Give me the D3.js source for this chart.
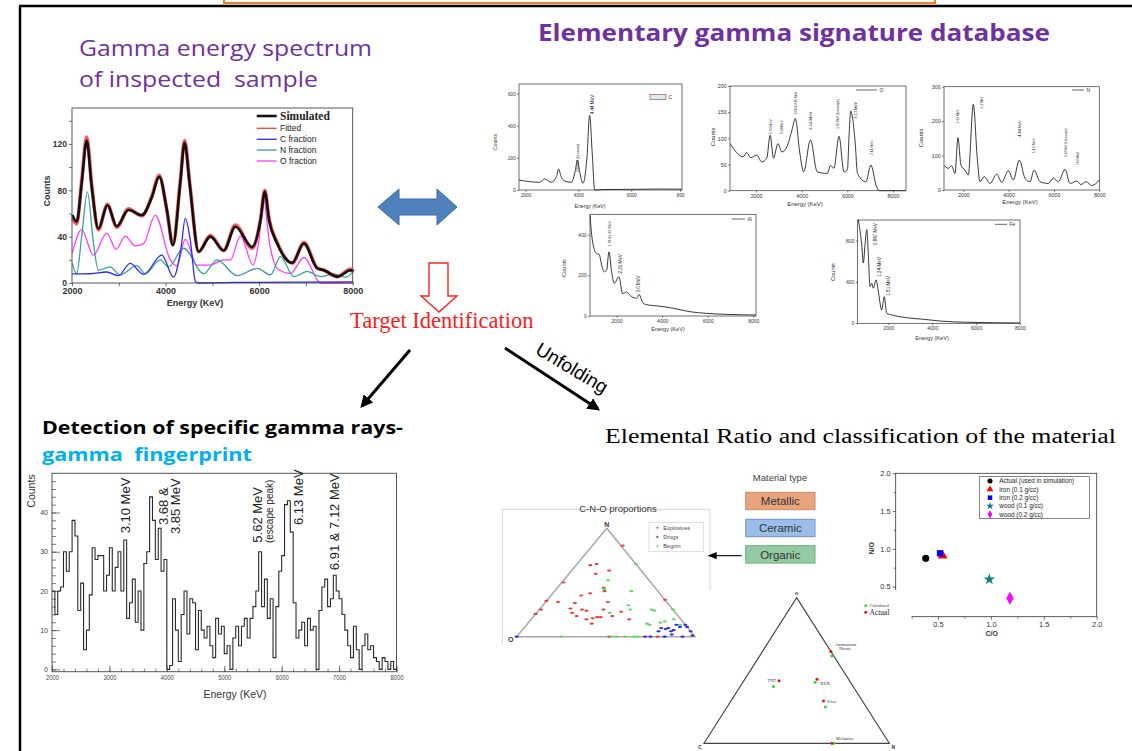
<!DOCTYPE html>
<html><head><meta charset="utf-8">
<script src="https://cdn.jsdelivr.net/npm/d3@7"></script>
<style>body{margin:0;background:#fff;overflow:hidden}svg{display:block}</style>
</head><body>
<svg id="c" width="1132" height="751"></svg>
<script>
// ================= DATA =================
// Top-left: gamma energy spectrum of inspected sample
const simE = [2007,2100,2207,2314,2421,2564,2757,2957,3207,3493,3707,3864,4029,4157,4314,4407,4514,4707,4957,5243,5493,5850,6029,6121,6214,6386,6707,6957,7243,7386,7671,7957,8014];
const simV = [58.6,52.8,86,123,83,47,67,49,63,58.6,74,91.6,63,32.7,86,121,86,27,40,28,48.5,31,54,78.7,54,34,17.5,34,12.6,11,5.5,11,10];
const fitV = [56,51,88,126,85,46,68,48,64,58,75,93,62,33,88,123,87,27,41,28,50,30,55,80,55,35,17,35,13,11,5.5,12,10];
const cFracE = [2007,2400,2743,2993,3243,3529,3921,4171,4330,4421,4529,4640,4700,5500,8014];
const cFracV = [7.8,8,9.5,6.3,17,7.5,24,5,30,55.7,37,1,0,0.5,1];
const nFracE = [2007,2100,2207,2329,2457,2564,2814,3029,3386,3564,3886,4064,4386,4814,5100,5529,5957,6243,6457,6743,7029,7314,7600,7850,8014];
const nFracV = [17,8,40,78.7,35,11,14,7,15,8,20,14,30,8,20,6.3,12.6,7,22.7,5.5,10,5.5,7.8,5,10];
const oFracE = [2007,2207,2457,2743,2943,3136,3350,3529,3779,4100,4243,4421,4671,4957,5243,5386,5600,5871,5990,6100,6220,6386,6671,6957,7314,8014];
const oFracV = [26,46,24,43,29,40.5,32,34,58.6,20,15,37.6,15.5,15.5,20,20,40.5,15.5,35,71.5,35,12.6,8.3,22,0,0];
const tlSeries = ["Simulated","Fitted","C fraction","N fraction","O fraction"];
const tlXTicks = [2000,3000,4000,5000,6000,7000,8000];
const tlXLabels = [2000,4000,6000,8000];
const tlYTicks = [0,20,40,60,80,100,120,140];
const tlYLabels = [0,40,80,120];

// Elementary signature database panels
const cSpecE = [1750,2150,2530,2720,2970,3170,3250,3340,3480,3730,3880,3960,4050,4170,4320,4424,4525,4614,5000,6000,7000,7900];
const cSpecV = [62,52,48,69,48,85,131,85,56,48,120,187,110,42,198,465,219,0,3,4,6,5];
const oSpecE = [860,1440,1590,1770,2030,2250,2470,2620,2765,2960,3135,3355,3576,3722,3912,4088,4384,4680,5120,5267,5413,5634,5855,6004,6080,6150,6340,6446,6812,7033,7254,7400,8570];
const oSpecV = [90,65,73,63,68,55,62,106,62,90,74,84,116,138,74,36,97,36,33,48,43,104,36,40,110,152,94,33,17,49,11,0,0];
const nSpecE = [1148,1337,1488,1634,1766,1898,2075,2221,2442,2618,2737,2927,3179,3475,3695,3987,4208,4472,4724,4945,5122,5386,5753,5974,6195,6490,6711,7007,7184,7418,7669,8004];
const nSpecV = [72,63,70,48,152,72,58,44,249,92,24,39,19,46,22,56,29,87,34,24,58,24,19,34,24,60,19,26,16,24,13,29];
const alSpecE = [830,945,1121,1235,1341,1455,1560,1662,1780,1894,2100,2264,2440,2560,2660,2879,2980,3170,3390,3758,4489,5222,5956,6836,8120];
const alSpecV = [495,364,307,302,250,217,225,315,217,160,193,110,118,105,95,87,106,62,54,50,38,21,13,8,5];
const feSpecE = [633,788,861,938,1016,1089,1166,1243,1317,1440,1544,1699,1818,1927,2155,2838,3595,4355,5571,8000];
const feSpecV = [1003,760,583,760,906,663,355,388,340,420,307,129,258,97,81,54,39,22,10,3];
const cAnn = [{e:4021,v:112,t:"3.93 MeV (1st escape)",fs:2.8},{e:4589,v:471,t:"4.44 MeV",fs:4.6}];
const oAnn = [{e:2700,v:108,t:"2.74 MeV",fs:3.5},{e:3183,v:108,t:"3.09MeV",fs:3.5},{e:3796,v:146,t:"3.68 & 3.85 MeV",fs:3},{e:4453,v:116,t:"4.44 MeV",fs:4.3},{e:5635,v:119,t:"5.62 MeV (1st escape)",fs:2.9},{e:6424,v:138,t:"6.13 MeV",fs:3.9},{e:7124,v:68,t:"7.11 MeV",fs:3.5}];
const nAnn = [{e:1825,v:194,t:"1.63 MeV",fs:3.2},{e:2857,v:237,t:"2.3 MeV",fs:3.2},{e:4532,v:155,t:"4.44 MeV",fs:3.8},{e:5176,v:107,t:"5.12 MeV",fs:3.5},{e:6561,v:97,t:"6.52 MeV (1st escape)",fs:2.8},{e:7117,v:72,t:"7.03 MeV",fs:3}];
const alAnn = [{e:1736,v:340,t:"1.78 &1.81 MeV",fs:3.6},{e:2220,v:209,t:"2.21 MeV",fs:4.5},{e:3024,v:116,t:"3.0 MeV",fs:4.5}];
const feAnn = [{e:1500,v:758,t:"0.847 MeV",fs:4.5},{e:1680,v:451,t:"1.24 MeV",fs:4.6},{e:2077,v:267,t:"1.81 MeV",fs:4.6}];

// Gamma fingerprint histogram (50 keV bins from 2000 keV)
const histStart = 2000, histBin = 50;
const histCounts = [20,14,20,21,30,25,30,38,34,15,22,5,10,19,31,28,29,29,20,24,
  31,20,26,30,20,33,13,17,23,12,20,10,27,30,44,38,28,36,25,28,
  0,1,18,10,2,14,20,9,18,17,5,15,10,8,11,6,3,13,9,11,
  4,6,0,8,11,6,11,13,8,13,16,20,30,16,23,13,18,3,16,25,
  29,42,43,35,17,8,10,12,6,13,10,11,0,15,21,23,16,18,24,20,
  18,14,10,6,3,11,5,0,6,9,5,6,3,2,0,3,2,0,2,0];
const histXTicks = [2000,3000,4000,5000,6000,7000,8000];
const histYTicks = [0,10,20,30,40];
const histAnn = [
  {e:3361,c:34.7,t:"3.10 MeV",fs:13,a:"start"},
  {e:4024,c:41.6,t:"3.68 &",fs:13,a:"middle"},
  {e:4234,c:41.6,t:"3.85 MeV",fs:13,a:"middle"},
  {e:5665,c:39.4,t:"5.62 MeV",fs:13,a:"middle"},
  {e:5857,c:40.3,t:"(escape peak)",fs:10,a:"middle"},
  {e:6363,c:36.8,t:"6.13 MeV",fs:13,a:"start"},
  {e:6991,c:25.3,t:"6.91 & 7.12 MeV",fs:13,a:"start"}];

// C-N-O proportions ternary: [C fraction, N fraction], O = 1 - C - N
const explosives = [[0.17,0.84],[0.11,0.67],[0.08,0.66],[0.15,0.58],[0.21,0.61],[0.26,0.45],[0.28,0.42],[0.21,0.40],[0.17,0.38],[0.01,0.50],[0.00,0.33],[0.01,0.25],[0.00,0.21],[0.17,0.31],[0.17,0.26],[0.24,0.25],[0.27,0.24],[0.24,0.19],[0.31,0.16],[0.34,0.17],[0.36,0.18],[0.36,0.12],[0.36,0.25],[0.35,0.32],[0.44,0.19],[0.47,0.23],[0.55,0.16],[0.38,0.18],[0.66,0.34],[0.52,0.00],[0.79,0.00],[0.20,0.22],[0.07,0.32]];
const drugs = [[0.72,0],[0.75,0],[0.77,0.05],[0.77,0.08],[0.80,0.07],[0.81,0.08],[0.84,0.05],[0.85,0.06],[0.84,0.11],[0.87,0.09],[0.93,0],[0.89,0.11],[0.91,0.09],[0.95,0.05],[0.98,0.01],[0.83,0],[0.86,0.02],[0,0]];
const begnin = [[0.33,0.67],[0.25,0.52],[0.27,0.44],[0.43,0.42],[0.48,0.29],[0.51,0.25],[0.41,0.22],[0.63,0.25],[0.65,0.24],[0.75,0.25],[0.67,0.12],[0.69,0.11],[0.74,0.13],[0.76,0.14],[0.80,0.16],[0.25,0],[0.53,0],[0.56,0],[0.61,0],[0.66,0],[0.68,0],[0.86,0.11]];
const materialTypes = ["Metallic","Ceramic","Organic"];

// Explosive compounds ternary (O top, C left, N right): [O fraction, N fraction]
const compounds = ["Ammonium Nitrate","TNT","RDX","Urea","Melamine"];
const actualON = [[0.63,0.37],[0.43,0.19],[0.44,0.39],[0.29,0.50],[0,0.69]];
const calcON = [[0.60,0.39],[0.39,0.18],[0.42,0.39],[0.25,0.53],[0,0.70]];

// N/O vs C/O scatter
const ratioNames = ["Actual (used in simulation)","iron (0.1 g/cc)","iron (0.2 g/cc)","wood (0.1 g/cc)","wood (0.2 g/cc)"];
const ratioCO = [0.384,0.544,0.519,0.985,1.18];
const ratioNO = [0.873,0.908,0.940,0.595,0.344];
const ratioTicks = [0.5,1.0,1.5,2.0];

// ================= DRAWING =================
const svg = d3.select('#c');
const SANS = "'Liberation Sans', Arial, sans-serif";
const SERIF = "'Liberation Serif', 'Times New Roman', serif";
const zip = (a,b) => a.map((v,i)=>[v,b[i]]);

function txt(g,x,y,s,o={}){
  const t = g.append('text').attr('x',x).attr('y',y).text(s)
    .attr('font-family',o.ff||SANS).attr('font-size',o.fs||10).attr('fill',o.fill||'#000');
  if(o.fw) t.attr('font-weight',o.fw);
  if(o.anchor) t.attr('text-anchor',o.anchor);
  if(o.tl) t.attr('textLength',o.tl).attr('lengthAdjust','spacingAndGlyphs');
  if(o.rot!=null) t.attr('transform',`rotate(${o.rot},${x},${y})`);
  if(o.pre) t.style('white-space','pre');
  return t;
}
function styleAxis(a,fs,col,ff,fw){
  a.attr('font-size',fs).attr('font-family',ff||SANS).attr('color',col||'#222');
  if(fw) a.attr('font-weight',fw);
  a.select('.domain').remove();
  a.selectAll('line').attr('stroke-width',0.7);
  return a;
}

// Frame
svg.append('rect').attr('x',224).attr('y',-10).attr('width',711).attr('height',13).attr('fill','none').attr('stroke','#ED7D31').attr('stroke-width',2);
svg.append('path').attr('d','M19,6H1132M20,6V751').attr('stroke','#000').attr('stroke-width',2.5).attr('fill','none');

// Titles
txt(svg,79,56,"Gamma energy spectrum",{fs:22,fill:'#7030A0',ff:"'Open Sans', sans-serif",tl:293});
txt(svg,79,87,"of inspected  sample",{fs:22,fill:'#7030A0',ff:"'Open Sans', sans-serif",tl:239,pre:true});
txt(svg,538,41,"Elementary gamma signature database",{fs:23,fw:'bold',fill:'#7030A0',ff:"'Open Sans', sans-serif",tl:512});
txt(svg,42,434,"Detection of specific gamma rays-",{fs:17.5,fw:'bold',ff:"'Open Sans', sans-serif",tl:361});
txt(svg,42,461,"gamma  fingerprint",{fs:17.5,fw:'bold',fill:'#00B0F0',ff:"'Open Sans', sans-serif",tl:210,pre:true});
txt(svg,605,443,"Elemental Ratio and classification of the material",{fs:20,ff:SERIF,tl:511});

// ---------- Top-left spectrum ----------
(function(){
  const L=72,R=352.7,T=108,B=283;
  const x = d3.scaleLinear().domain([2000,8000]).range([L,R]);
  const y = d3.scaleLinear().domain([0,151]).range([B,T]);
  const g = svg.append('g');
  const ln = d3.line().x(d=>x(d[0])).y(d=>y(d[1])).curve(d3.curveMonotoneX);
  g.append('path').attr('d',ln(zip(oFracE,oFracV))).attr('stroke','#ff3cff').attr('stroke-width',1.3).attr('fill','none');
  g.append('path').attr('d',ln(zip(nFracE,nFracV))).attr('stroke','#3a9f9b').attr('stroke-width',1.3).attr('fill','none');
  g.append('path').attr('d',ln(zip(cFracE,cFracV))).attr('stroke','#2a2aff').attr('stroke-width',1.3).attr('fill','none');
  g.append('path').attr('d',ln(zip(simE,fitV))).attr('stroke','#ff3b3b').attr('stroke-width',3.6).attr('fill','none').attr('opacity',0.85);
  g.append('path').attr('d',ln(zip(simE,simV))).attr('stroke','#111').attr('stroke-width',2.6).attr('fill','none');
  g.append('rect').attr('x',L).attr('y',T).attr('width',R-L).attr('height',B-T).attr('fill','none').attr('stroke','#444').attr('stroke-width',0.9);
  const ax = g.append('g').attr('transform',`translate(0,${B})`)
    .call(d3.axisBottom(x).tickValues(tlXTicks).tickFormat(d=>tlXLabels.includes(d)?String(d):'').tickSize(3).tickPadding(2));
  styleAxis(ax,9,'#333',SANS,'bold');
  const ay = g.append('g').attr('transform',`translate(${L},0)`)
    .call(d3.axisLeft(y).tickValues(tlYTicks).tickFormat(d=>tlYLabels.includes(d)?String(d):'').tickSize(3).tickPadding(2));
  styleAxis(ay,8.5,'#333',SANS,'bold');
  txt(g,195,306,"Energy (KeV)",{fs:9,anchor:'middle',fill:'#333',fw:'bold'});
  txt(g,50,191,"Counts",{fs:9,anchor:'middle',rot:-90,fill:'#333',fw:'bold'});
  // legend
  const cols = ['#111','#ff3b3b','#2a2aff','#3a9f9b','#ff3cff'];
  const rows = [116,128.3,139.3,150,161];
  tlSeries.forEach((s,i)=>{
    g.append('line').attr('x1',256.7).attr('x2',276.7).attr('y1',rows[i]).attr('y2',rows[i])
      .attr('stroke',cols[i]).attr('stroke-width',i===0?2.6:1.3);
    if(i===0) txt(g,280,rows[i]+4,s,{fs:11.5,ff:SERIF,fw:'bold',fill:'#222'});
    else txt(g,280,rows[i]+3,s,{fs:8.5,fill:'#222'});
  });
})();

// ---------- small spectra panels ----------
function panel(o){
  const g = svg.append('g');
  const x = d3.scaleLinear().domain(o.xd).range([o.L,o.R]);
  const y = d3.scaleLinear().domain(o.yd).range([o.B,o.T]);
  const ln = d3.line().x(d=>x(d[0])).y(d=>y(d[1])).curve(d3.curveMonotoneX);
  g.append('path').attr('d',ln(zip(o.E,o.V))).attr('stroke','#222').attr('stroke-width',0.9).attr('fill','none');
  g.append('rect').attr('x',o.L).attr('y',o.T).attr('width',o.R-o.L).attr('height',o.B-o.T).attr('fill','none').attr('stroke','#333').attr('stroke-width',0.7);
  const ax = g.append('g').attr('transform',`translate(0,${o.B})`)
    .call(d3.axisBottom(x).tickValues(o.xt).tickFormat((d,i)=>o.xl?o.xl[i]:String(d)).tickSize(1.8).tickPadding(1.5));
  styleAxis(ax,o.fs,'#333');
  const ay = g.append('g').attr('transform',`translate(${o.L},0)`)
    .call(d3.axisLeft(y).tickValues(o.yt).tickFormat(d=>String(d)).tickSize(1.8).tickPadding(1.5));
  styleAxis(ay,o.fs,'#333');
  txt(g,o.ex,o.ey,"Energy (KeV)",{fs:o.fs+0.6,anchor:'middle',fill:'#333'});
  txt(g,o.cx,o.cy,"Counts",{fs:o.fs+0.6,anchor:'middle',rot:-90,fill:'#333'});
  o.ann.forEach(a=>{
    g.append('text').attr('transform',`translate(${x(a.e)},${y(a.v)}) rotate(-90)`)
      .attr('font-family',SANS).attr('font-size',a.fs).attr('fill','#222').text(a.t);
  });
  const lg = o.leg;
  if(lg.box){
    g.append('rect').attr('x',lg.x1).attr('y',lg.y-2.5).attr('width',lg.x2-lg.x1).attr('height',5).attr('fill','#c8f4f8').attr('stroke','#d84040').attr('stroke-width',0.7);
  } else {
    g.append('line').attr('x1',lg.x1).attr('x2',lg.x2).attr('y1',lg.y).attr('y2',lg.y).attr('stroke','#666').attr('stroke-width',1);
  }
  txt(g,lg.x2+2.5,lg.y+1.8,lg.t,{fs:5,fill:'#333'});
}
panel({L:519,R:682,T:84,B:190,xd:[1750,7920],yd:[0,660],E:cSpecE,V:cSpecV,xt:[2000,4000,6000,7850],xl:["2000","4000","6000","800"],yt:[0,200,400,600],fs:4.6,ex:590,ey:208,cx:497,cy:142,ann:cAnn,leg:{x1:650,x2:666,y:97,t:"C",box:true}});
panel({L:730,R:906,T:86,B:190.7,xd:[860,8570],yd:[0,200],E:oSpecE,V:oSpecV,xt:[2000,4000,6000,8000],yt:[0,50,100,150,200],fs:5.3,ex:805,ey:206,cx:715,cy:137,ann:oAnn,leg:{x1:856,x2:877,y:90,t:"O"}});
panel({L:944,R:1099.3,T:86.7,B:190,xd:[1150,8000],yd:[0,300],E:nSpecE,V:nSpecV,xt:[2000,4000,6000,8000],yt:[0,100,200,300],fs:5.3,ex:1020,ey:204,cx:923,cy:138,ann:nAnn,leg:{x1:1072,x2:1084,y:90,t:"N"}});
panel({L:590,R:756,T:214.3,B:316,xd:[830,8120],yd:[0,500],E:alSpecE,V:alSpecV,xt:[2000,4000,6000,8000],yt:[0,200,400],fs:5,ex:668,ey:331,cx:566,cy:268,ann:alAnn,leg:{x1:731.7,x2:745,y:219,t:"Al"}});
panel({L:857.6,R:1020,T:220,B:323.3,xd:[600,8000],yd:[0,1000],E:feSpecE,V:feSpecV,xt:[2000,4000,6000,8000],yt:[0,400,800],fs:5,ex:932,ey:340,cx:835,cy:272,ann:feAnn,leg:{x1:995,x2:1007,y:224.3,t:"Fe"}});

// ---------- arrows ----------
svg.append('polygon').attr('points','378,207 399,189 399,199 437,199 437,189 457,207 437,225 437,215 399,215 399,225')
  .attr('fill','#4F81BD').attr('stroke','#3b6aa3').attr('stroke-width',1);
svg.append('polygon').attr('points','429,263 448,263 448,296 457,296 439,312 421,296 429,296')
  .attr('fill','#fff').attr('stroke','#ff2020').attr('stroke-width',1.4);
txt(svg,350,328,"Target Identification",{fs:22.5,ff:SERIF,fill:'#ff1a1a'});
const defs = svg.append('defs');
defs.append('marker').attr('id','ah').attr('viewBox','0 0 10 10').attr('refX',8).attr('refY',5)
  .attr('markerWidth',4.2).attr('markerHeight',4.2).attr('orient','auto')
  .append('path').attr('d','M0,0L10,5L0,10Z').attr('fill','#000');
defs.append('marker').attr('id','ah2').attr('viewBox','0 0 10 10').attr('refX',9).attr('refY',5)
  .attr('markerWidth',7).attr('markerHeight',7).attr('orient','auto')
  .append('path').attr('d','M0,1L10,5L0,9Z').attr('fill','#000');
svg.append('line').attr('x1',410).attr('y1',350).attr('x2',362).attr('y2',406).attr('stroke','#000').attr('stroke-width',3).attr('marker-end','url(#ah)');
svg.append('line').attr('x1',505).attr('y1',348).attr('x2',598).attr('y2',409).attr('stroke','#000').attr('stroke-width',3).attr('marker-end','url(#ah)');
svg.append('text').attr('transform','translate(572,368) rotate(31)').attr('text-anchor','middle').attr('dominant-baseline','central')
  .attr('font-family',SANS).attr('font-size',19).text("Unfolding");

// ---------- gamma fingerprint histogram ----------
(function(){
  const L=52,R=396.5,T=473.3,B=671.7;
  const x = d3.scaleLinear().domain([2000,8000]).range([L,R]);
  const y = d3.scaleLinear().domain([-0.6,50]).range([B,T]);
  const g = svg.append('g');
  g.append('rect').attr('x',L).attr('y',T).attr('width',R-L).attr('height',B-T).attr('fill','none').attr('stroke','#555').attr('stroke-width',1);
  const pts = histCounts.map((c,i)=>[histStart+i*histBin,c]);
  pts.push([histStart+histCounts.length*histBin,histCounts[histCounts.length-1]]);
  g.append('path').attr('d',d3.line().x(d=>x(d[0])).y(d=>y(d[1])).curve(d3.curveStepAfter)(pts))
    .attr('fill','none').attr('stroke','#2a2a2a').attr('stroke-width',1.1);
  const ay = g.append('g').attr('transform',`translate(${L},0)`).call(d3.axisLeft(y).tickValues(histYTicks).tickFormat(d=>String(d)).tickSize(-8).tickPadding(4));
  styleAxis(ay,7,'#444');
  const ay2 = g.append('g').attr('transform',`translate(${L},0)`).call(d3.axisLeft(y).tickValues(d3.range(0,50,2)).tickSize(-4).tickFormat(''));
  styleAxis(ay2,7,'#444');
  const ax = g.append('g').attr('transform',`translate(0,${B})`).call(d3.axisBottom(x).tickValues(histXTicks).tickFormat(d=>String(d)).tickSize(-6).tickPadding(3));
  styleAxis(ax,7,'#444');
  ax.selectAll('text').attr('textLength',13).attr('lengthAdjust','spacingAndGlyphs');
  const ax2 = g.append('g').attr('transform',`translate(0,${B})`).call(d3.axisBottom(x).tickValues(d3.range(2000,8001,200)).tickSize(-3).tickFormat(''));
  styleAxis(ax2,7,'#444');
  txt(g,35,491,"Counts",{fs:10.5,anchor:'middle',rot:-90,fill:'#333'});
  txt(g,235,698,"Energy (KeV)",{fs:10.5,anchor:'middle',fill:'#333'});
  histAnn.forEach(a=>{
    g.append('text').attr('transform',`translate(${x(a.e)},${y(a.c)}) rotate(-90)`)
      .attr('text-anchor',a.a).attr('font-family',SANS).attr('font-size',a.fs).attr('fill','#222').text(a.t);
  });
})();

// ---------- C-N-O proportions ternary ----------
(function(){
  const g = svg.append('g');
  g.append('path').attr('d','M502.3,645V509.3H710V590').attr('fill','none').attr('stroke','#d6d6d6').attr('stroke-width',1);
  txt(g,618,512,"C-N-O proportions",{fs:9.5,anchor:'middle',fill:'#333'});
  const u = d3.scaleLinear().domain([0,1]).range([516.7,695]);
  const v = d3.scaleLinear().domain([0,1]).range([636.7,528.3]);
  const apex = 0.505;
  const P = d=>[u(d[0]+apex*d[1]), v(d[1])];
  const tri = [[0,1],[0,0],[1,0]].map(P);
  g.append('path').attr('d','M'+tri.map(p=>p.join(',')).join('L')+'Z').attr('fill','none').attr('stroke','#a8a8a8').attr('stroke-width',1.5);
  txt(g,tri[0][0],tri[0][1]-1,"N",{fs:7,fw:'bold',anchor:'middle',fill:'#333'});
  txt(g,tri[1][0]-6,tri[1][1]+5,"O",{fs:7,fw:'bold',anchor:'middle',fill:'#333'});
  const sets = [[explosives,'#ee3b3b'],[begnin,'#5edc5e'],[drugs,'#2f2fe6']];
  sets.forEach(([arr,col])=>{
    g.selectAll(null).data(arr).enter().append('ellipse')
      .attr('cx',d=>P(d)[0]).attr('cy',d=>P(d)[1]).attr('rx',2.1).attr('ry',1.1).attr('fill',col);
  });
  g.append('rect').attr('x',649).attr('y',522.3).attr('width',54.3).attr('height',29.4).attr('fill','#fff').attr('stroke','#d0d0d0').attr('stroke-width',0.7);
  [['Explosives','#ee3b3b'],['Drugs','#2f2fe6'],['Begnin','#5edc5e']].forEach((d,i)=>{
    g.append('circle').attr('cx',657.3).attr('cy',527.7+i*9.3).attr('r',1).attr('fill',d[1]);
    txt(g,663.3,529.6+i*9.3,d[0],{fs:5.6,fill:'#444'});
  });
})();

// ---------- Material type ----------
(function(){
  const g = svg.append('g');
  txt(g,780,480.5,"Material type",{fs:9.5,anchor:'middle',fill:'#444'});
  const fills = ['#E8A47C','#9DBDE9','#94CBA3'], strokes = ['#c98b64','#6f93c9','#6cae80'];
  const ys = [492.3,519.3,545.7];
  materialTypes.forEach((m,i)=>{
    g.append('rect').attr('x',745.7).attr('y',ys[i]).attr('width',69.3).attr('height',17.4).attr('fill',fills[i]).attr('stroke',strokes[i]).attr('stroke-width',1);
    txt(g,780.3,ys[i]+13,m,{fs:11.5,anchor:'middle',fill:'#333'});
  });
  g.append('line').attr('x1',741.7).attr('y1',555.7).attr('x2',708.5).attr('y2',555.7).attr('stroke','#222').attr('stroke-width',1.3).attr('marker-end','url(#ah2)');
})();

// ---------- N/O vs C/O scatter ----------
(function(){
  const g = svg.append('g');
  const L=895.7,R=1096.7,T=473.3,B=616.7;
  const x = d3.scaleLinear().domain([0.1,2]).range([L,R]);
  const y = d3.scaleLinear().domain([0.1,2]).range([B,T]);
  g.append('rect').attr('x',L).attr('y',T).attr('width',R-L).attr('height',B-T).attr('fill','none').attr('stroke','#333').attr('stroke-width',0.8);
  const ax = g.append('g').attr('transform',`translate(0,${B})`).call(d3.axisBottom(x).tickValues(ratioTicks).tickFormat(d3.format('.1f')).tickSize(3).tickPadding(2));
  styleAxis(ax,7.5,'#333');
  const ax2 = g.append('g').attr('transform',`translate(0,${B})`).call(d3.axisBottom(x).tickValues([0.25,0.75,1.25,1.75]).tickFormat('').tickSize(2));
  styleAxis(ax2,7.5,'#333');
  const ay = g.append('g').attr('transform',`translate(${L},0)`).call(d3.axisLeft(y).tickValues(ratioTicks).tickFormat(d3.format('.1f')).tickSize(3).tickPadding(2));
  styleAxis(ay,7.5,'#333');
  const ay2 = g.append('g').attr('transform',`translate(${L},0)`).call(d3.axisLeft(y).tickValues([0.75,1.25,1.75]).tickFormat('').tickSize(2));
  styleAxis(ay2,7.5,'#333');
  txt(g,991.7,636,"C/O",{fs:7,anchor:'middle',fill:'#333',fw:'bold'});
  txt(g,874,548.3,"N/O",{fs:7,anchor:'middle',rot:-90,fill:'#333',fw:'bold'});
  const types = [d3.symbolCircle,d3.symbolTriangle,d3.symbolSquare,d3.symbolStar,d3.symbolDiamond];
  const cols = ['#000','#ff0000','#0000ff','#128080','#ff00ff'];
  const sizes = [40,42,40,42,48];
  ratioCO.forEach((c,i)=>{
    g.append('path').attr('d',d3.symbol().type(types[i]).size(sizes[i])()).attr('transform',`translate(${x(c)},${y(ratioNO[i])})`).attr('fill',cols[i]);
  });
  g.append('rect').attr('x',979.3).attr('y',476.7).attr('width',110).attr('height',41.6).attr('fill','#fff').attr('stroke','#333').attr('stroke-width',0.6);
  ratioNames.forEach((n,i)=>{
    const yy = 481+i*8.33;
    g.append('path').attr('d',d3.symbol().type(types[i]).size(20)()).attr('transform',`translate(990,${yy})`).attr('fill',cols[i]);
    txt(g,999.3,yy+2.3,n,{fs:6.4,fill:'#222'});
  });
})();

// ---------- overlay image of explosive ternary ----------
(function(){
  const g = svg.append('g');
  g.append('rect').attr('x',697).attr('y',590).attr('width',214.5).attr('height',161).attr('fill','#fff');
  const u = d3.scaleLinear().domain([0,1]).range([704,889.3]);
  const v = d3.scaleLinear().domain([0,1]).range([743.3,597.7]);
  const P = d=>[u(d[1]+0.5*d[0]), v(d[0])];
  const tri = [[1,0],[0,0],[0,1]].map(P);
  g.append('path').attr('d','M'+tri.map(p=>p.join(',')).join('L')+'Z').attr('fill','none').attr('stroke','#444').attr('stroke-width',1.2);
  txt(g,tri[0][0],tri[0][1]-3,"o",{fs:5,fw:'bold',anchor:'middle',fill:'#333'});
  txt(g,tri[1][0]-4,tri[1][1]+6,"C",{fs:5,fw:'bold',anchor:'middle',fill:'#333'});
  txt(g,tri[2][0]+4,tri[2][1]+6,"N",{fs:5,fw:'bold',anchor:'middle',fill:'#333'});
  calcON.forEach(d=>g.append('circle').attr('cx',P(d)[0]).attr('cy',P(d)[1]).attr('r',1.5).attr('fill','#22dd22'));
  actualON.forEach(d=>g.append('circle').attr('cx',P(d)[0]).attr('cy',P(d)[1]).attr('r',1.5).attr('fill','#ee1111'));
  const labs = [
    {i:0,t:["Ammonium","Nitrate"],dx:[4,8],dy:[-6,-1.4],a:'start'},
    {i:1,t:["TNT"],dx:[-3],dy:[1.5],a:'end'},
    {i:2,t:["RDX"],dx:[3.5],dy:[5.5],a:'start'},
    {i:3,t:["Urea"],dx:[4],dy:[2],a:'start'},
    {i:4,t:["Melamine"],dx:[4],dy:[-3],a:'start'}];
  labs.forEach(l=>{
    const p = P(actualON[l.i]);
    l.t.forEach((s,k)=>txt(g,p[0]+l.dx[k],p[1]+l.dy[k],s,{fs:4.4,ff:SERIF,anchor:l.a,fill:'#333'}));
  });
  g.append('circle').attr('cx',865.7).attr('cy',605.7).attr('r',1.4).attr('fill','#22dd22');
  txt(g,869.5,607.3,"Calculated",{fs:4.5,ff:SERIF,fill:'#333'});
  g.append('circle').attr('cx',865.7).attr('cy',612.3).attr('r',1.5).attr('fill','#ee1111');
  txt(g,869.5,615,"Actual",{fs:7.5,ff:SERIF,fill:'#222'});
})();
</script>
</body></html>
